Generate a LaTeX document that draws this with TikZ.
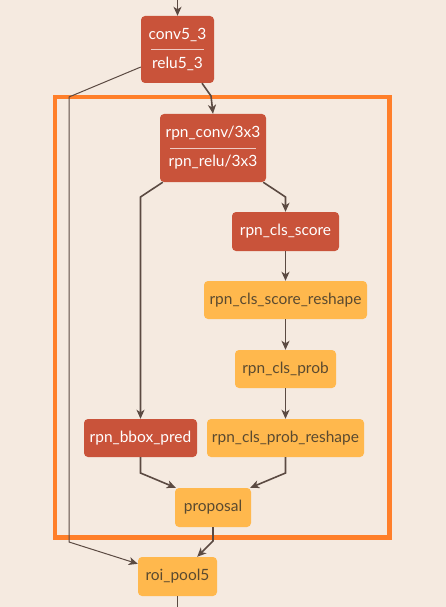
\documentclass[tikz,border=0pt]{standalone}
\usepackage{fontspec}
\setmainfont{Lato}
\usetikzlibrary{positioning,arrows.meta}

\definecolor{bgcol}{HTML}{F5EAE0}
\definecolor{redcol}{HTML}{C9533A}
\definecolor{yelcol}{HTML}{FFB84D}
\definecolor{framecol}{HTML}{FF7F2A}
\definecolor{edgecol}{HTML}{5B4A42}
\definecolor{txtcol}{HTML}{5A4A30}

\tikzset{
  layer/.style={rounded corners=4pt, inner sep=0pt, font=\fontsize{15.5}{29}\selectfont, align=center},
  redlayer/.style={layer, fill=redcol, text=white},
  yellayer/.style={layer, fill=yelcol, text=txtcol},
  divider/.style={draw=white!70!redcol, line width=0.8pt},
  edge/.style={draw=edgecol, line width=1.6pt, ->},
  skip/.style={draw=edgecol, line width=1pt, ->}
}

\begin{document}
\begin{tikzpicture}[>={Stealth[length=9pt, width=8pt, inset=2.5pt]}, x=1pt, y=-1pt]
\fill[bgcol] (0,0) rectangle (446,607);
\useasboundingbox (0,0) rectangle (446,607);

% region proposal network frame
\draw[framecol, line width=4.2pt] (55.3,97) rectangle (389.5,537.5);

\coordinate (in) at (177.5,0);
\coordinate (out) at (177.5,607);

\node[redlayer, minimum width=73pt, minimum height=67pt] (conv) at (177.5,49.5) {conv5\_3\\relu5\_3};
\draw[divider] ([xshift=10pt]conv.west) -- ([xshift=-10pt]conv.east);
\node[redlayer, minimum width=106pt, minimum height=68pt] (rpnconv) at (213,148) {rpn\_conv/3x3\\rpn\_relu/3x3};
\draw[divider] ([xshift=10pt]rpnconv.west) -- ([xshift=-10pt]rpnconv.east);

\node[redlayer, minimum width=107pt, minimum height=39pt] (score) at (285.5,231.5) {rpn\_cls\_score};
\node[yellayer, minimum width=163pt, minimum height=38pt] (scorereshape) at (285.5,300) {rpn\_cls\_score\_reshape};
\node[yellayer, minimum width=101pt, minimum height=38pt] (prob) at (285.5,369) {rpn\_cls\_prob};
\node[yellayer, minimum width=157pt, minimum height=38pt] (probreshape) at (285.5,438) {rpn\_cls\_prob\_reshape};
\node[redlayer, minimum width=113pt, minimum height=38pt] (bbox) at (140.5,438) {rpn\_bbox\_pred};
\node[yellayer, minimum width=76pt, minimum height=39pt] (proposal) at (213,507.5) {proposal};
\node[yellayer, minimum width=79pt, minimum height=39pt] (roi) at (177.5,576.5) {roi\_pool5};

\draw[edge] (in) -- (conv.north);
\draw[edge] ([xshift=24.5pt]conv.south) -- (211,96) -- (rpnconv.north);
\draw[skip] ([yshift=-17.5pt]conv.west) -- (69,97) -- (69,542) -- ([yshift=-7pt]roi.north west);
\draw[edge] ([xshift=3pt]rpnconv.south west) -- (140.5,197) -- (bbox.north);
\draw[edge] ([xshift=-3pt]rpnconv.south east) -- (285.5,197) -- (score.north);
\draw[edge] (score) -- (scorereshape);
\draw[edge] (scorereshape) -- (prob);
\draw[edge] (prob) -- (probreshape);
\draw[edge] (bbox.south) -- (140.5,473) -- ([xshift=1pt]proposal.north west);
\draw[edge] (probreshape.south) -- (285.5,473) -- ([xshift=-1pt]proposal.north east);
\draw[edge] (proposal.south) -- (213,541) -- ([xshift=-20pt]roi.north east);
\draw[edge, -] (roi.south) -- (out);
\end{tikzpicture}
\end{document}
